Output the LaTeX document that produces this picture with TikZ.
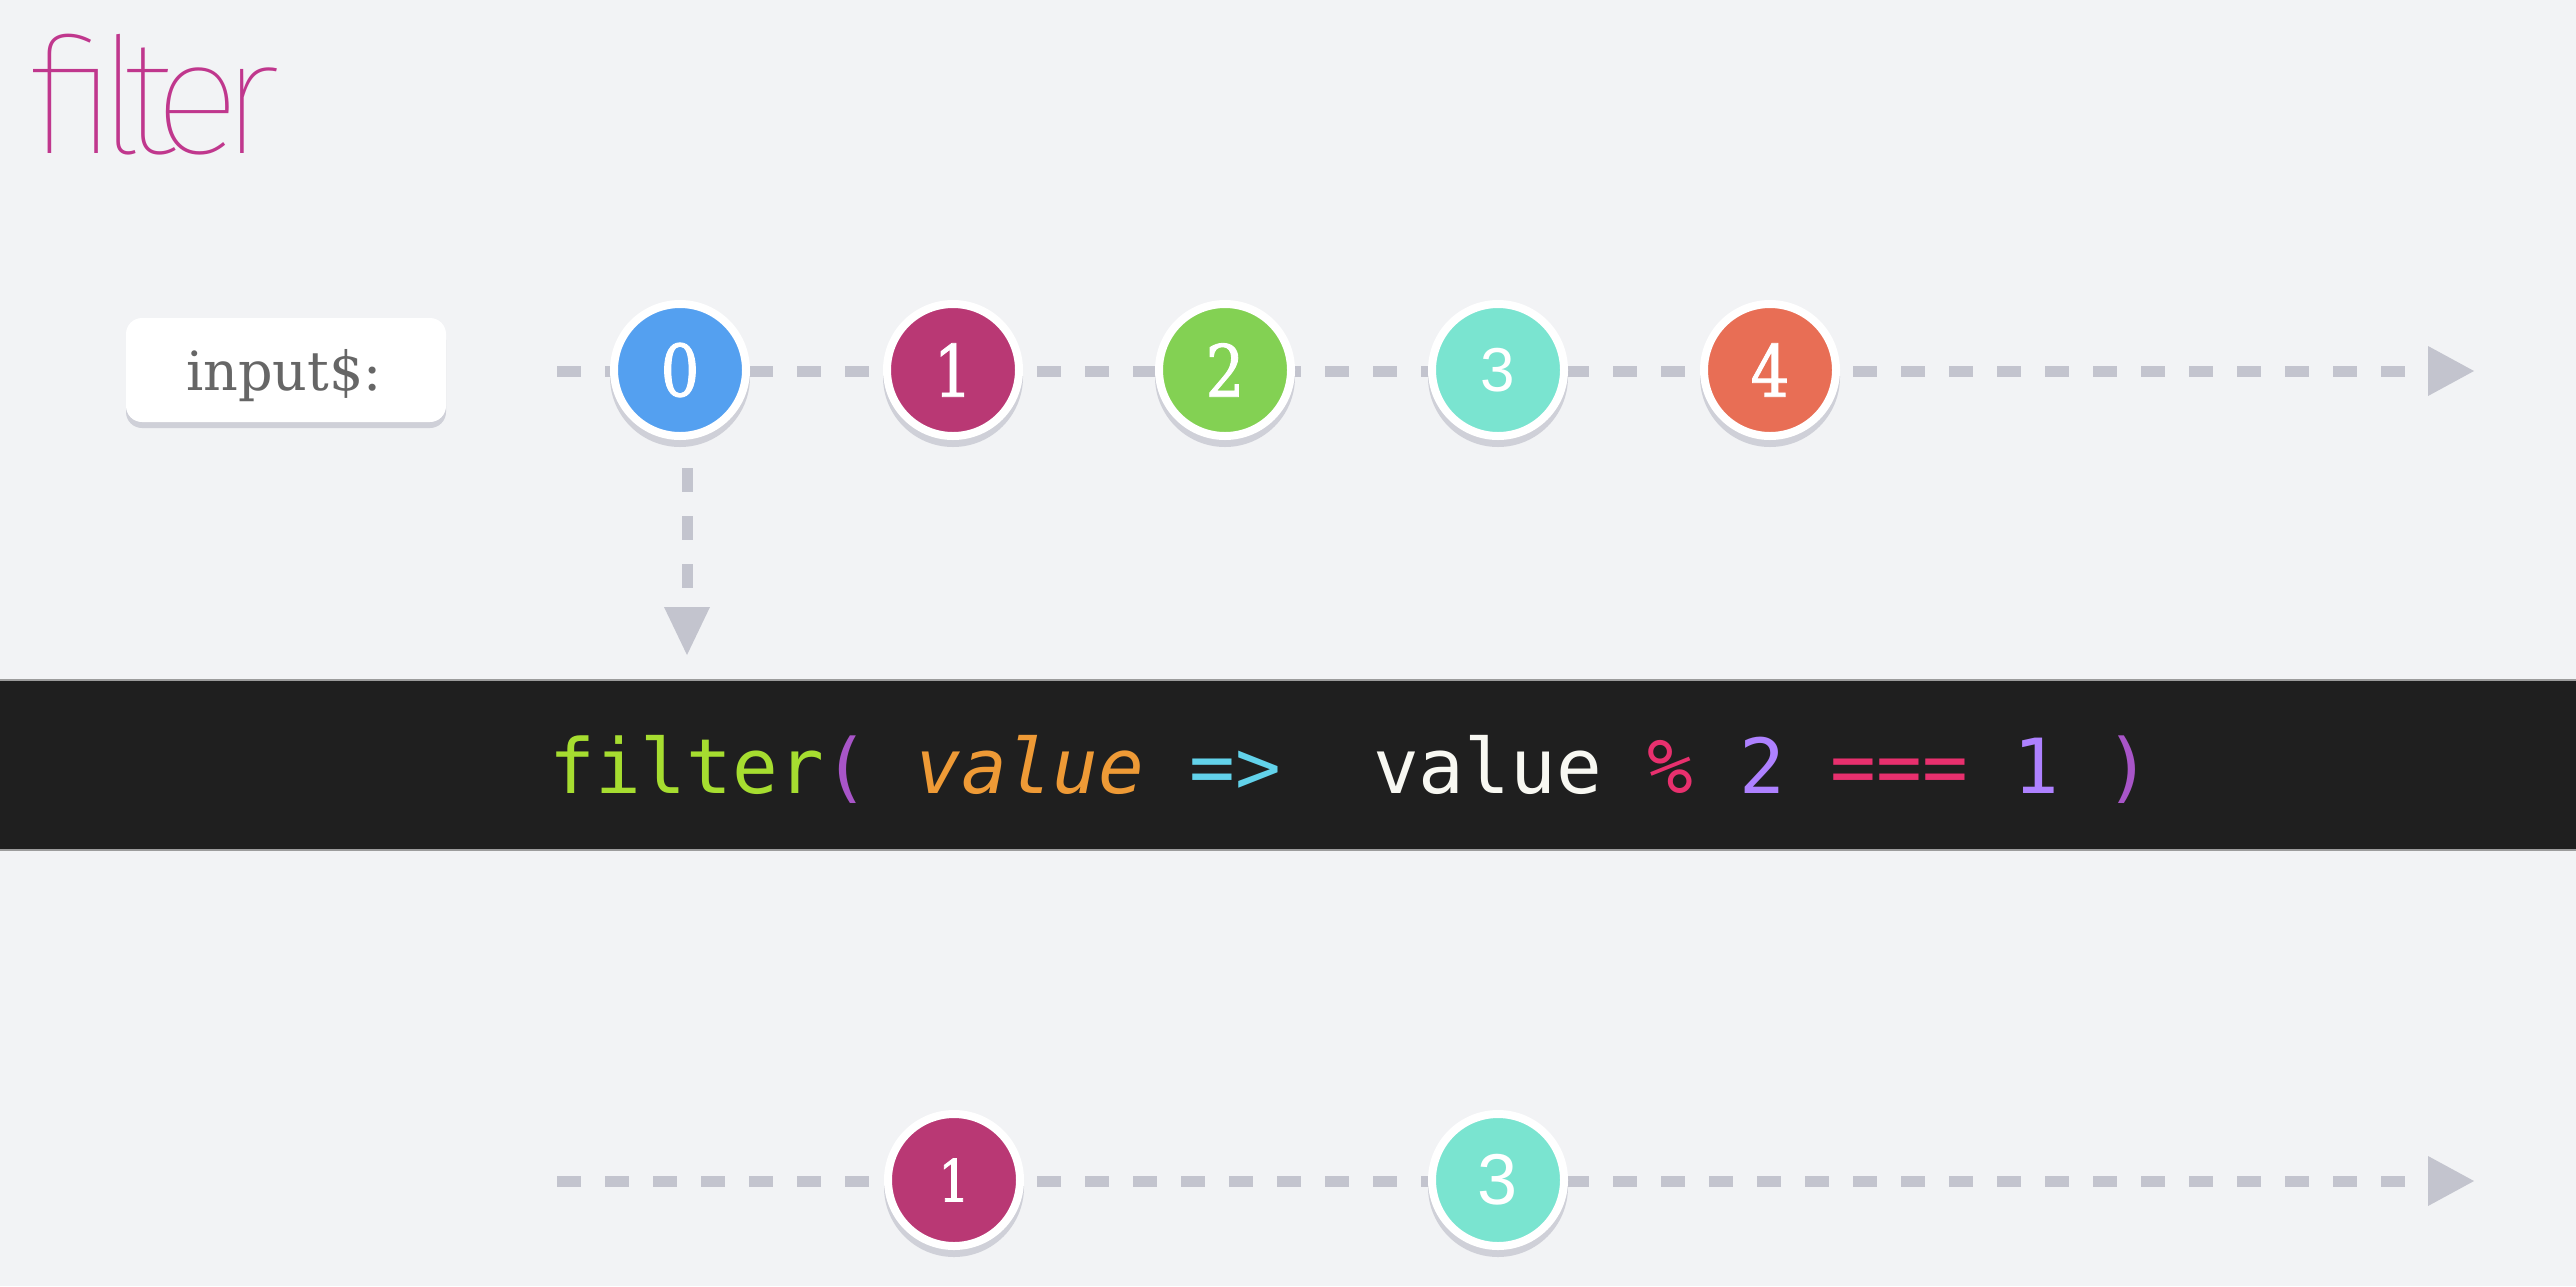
\documentclass[tikz,border=0pt]{standalone}
\usepackage{fontspec}
\setmainfont{DejaVu Serif}
\setmonofont{DejaVu Sans Mono}
\IfFontExistsTF{Fira Sans Thin}{\newfontfamily\titlefont{Fira Sans Thin}[LetterSpace=-12]}{%
 \IfFontExistsTF{Lato Hairline}{\newfontfamily\titlefont{Lato Hairline}[LetterSpace=-12]}{%
  \IfFontExistsTF{Fira Sans ExtraLight}{\newfontfamily\titlefont{Fira Sans ExtraLight}[LetterSpace=-12]}{%
   \IfFontExistsTF{Lato Light}{\newfontfamily\titlefont{Lato Light}[LetterSpace=-12]}{%
    \IfFontExistsTF{Fira Sans Light}{\newfontfamily\titlefont{Fira Sans Light}[LetterSpace=-12]}{%
     \newfontfamily\titlefont{Liberation Sans}}}}}}
\newfontfamily\numserif{DejaVu Serif}[FakeStretch=0.85,FakeBold=1.2]
\newfontfamily\numsans{Liberation Sans}
\usetikzlibrary{arrows.meta}
\definecolor{bg}{HTML}{F2F3F5}
\definecolor{band}{HTML}{1F1F1F}
\definecolor{bandline}{HTML}{9C9C9C}
\definecolor{dashc}{HTML}{C3C4CE}
\definecolor{shadowc}{HTML}{CFD0D8}
\definecolor{titlec}{HTML}{C0378D}
\definecolor{cblue}{HTML}{54A0F0}
\definecolor{cmag}{HTML}{B93874}
\definecolor{cgreen}{HTML}{83D153}
\definecolor{cteal}{HTML}{7AE4D0}
\definecolor{corange}{HTML}{E86E55}
\definecolor{kgreen}{HTML}{A6DD30}
\definecolor{kparen}{HTML}{A855C8}
\definecolor{korange}{HTML}{EE9A36}
\definecolor{kcyan}{HTML}{62D2EA}
\definecolor{kwhite}{HTML}{F8F8F2}
\definecolor{kpink}{HTML}{E8306E}
\definecolor{kpurple}{HTML}{AE81FF}
\begin{document}
\begin{tikzpicture}[x=0.5pt,y=-0.5pt,
  ball/.style={circle, minimum size=66pt, inner sep=0pt, draw=white, line width=4pt, text=white,
    preaction={fill=shadowc, draw=shadowc, line width=4pt, transform canvas={yshift=-3.5pt}}},
  flow/.style={draw=dashc, line width=5.5pt, dash pattern=on 12pt off 12pt},
  htip/.style={-{Triangle[length=23pt,width=25pt,line width=0pt]}},
  vtip/.style={-{Triangle[length=24pt,width=23pt,line width=0pt]}},
  labelbox/.style={rounded corners=8pt, minimum width=160pt, minimum height=52pt, fill=white, inner sep=0pt,
    preaction={fill=shadowc, transform canvas={yshift=-3pt}}}
]
\useasboundingbox (0,0) rectangle (2576,1286);
\fill[bg] (0,0) rectangle (2576,1286);

% title
\node[anchor=base west, inner sep=0pt, text=titlec, font=\titlefont\fontsize{81pt}{81pt}\selectfont] (title) at (28,153) {filter};

% code band
\fill[band] (0,680) rectangle (2576,850);
\draw[bandline, line width=1pt] (0,680) -- (2576,680);
\draw[bandline, line width=1pt] (0,850) -- (2576,850);
\node[anchor=base west, inner sep=0pt, font=\ttfamily\fontsize{38pt}{38pt}\selectfont] (code) at (549,793)
  {\textcolor{kgreen}{filter}\textcolor{kparen}{(}~\textcolor{korange}{\itshape value}~\textcolor{kcyan}{=>}~~\textcolor{kwhite}{value}~\textcolor{kpink}{\%}~\textcolor{kpurple}{2}~\textcolor{kpink}{===}~\textcolor{kpurple}{1}~\textcolor{kparen}{)}};

% connectors
\coordinate (s1) at (557,371);
\coordinate (e1) at (2474,371);
\coordinate (s2) at (557,1181);
\coordinate (e2) at (2474,1181);
\coordinate (v0) at (687,468);
\coordinate (v1) at (687,655);
\draw[flow, htip] (s1) -- (e1);
\draw[flow, htip] (s2) -- (e2);
\draw[flow, vtip] (v0) -- (v1);

% label
\node[labelbox] (input) at (286,370) {};
\node[anchor=base, inner sep=0pt, text=black!60, font=\fontsize{27pt}{27pt}\selectfont] (inputtxt) at (284,390) {input\$:};

% top row
\node[ball, fill=cblue, font=\numserif\fontsize{36pt}{36pt}\selectfont] (c0) at (680,370) {0};
\node[ball, fill=cmag, font=\numserif\fontsize{36pt}{36pt}\selectfont] (c1) at (953,370) {1};
\node[ball, fill=cgreen, font=\numserif\fontsize{36pt}{36pt}\selectfont] (c2) at (1225,370) {2};
\node[ball, fill=cteal, font=\numsans\fontsize{31pt}{31pt}\selectfont] (c3) at (1498,370) {3};
\node[ball, fill=corange, font=\numserif\fontsize{36pt}{36pt}\selectfont] (c4) at (1770,370) {4};

% bottom row
\node[ball, fill=cmag, font=\numserif\fontsize{29pt}{29pt}\selectfont] (d1) at (954,1180) {1};
\node[ball, fill=cteal, font=\numsans\fontsize{36pt}{36pt}\selectfont] (d3) at (1498,1180) {3};
\end{tikzpicture}
\end{document}
